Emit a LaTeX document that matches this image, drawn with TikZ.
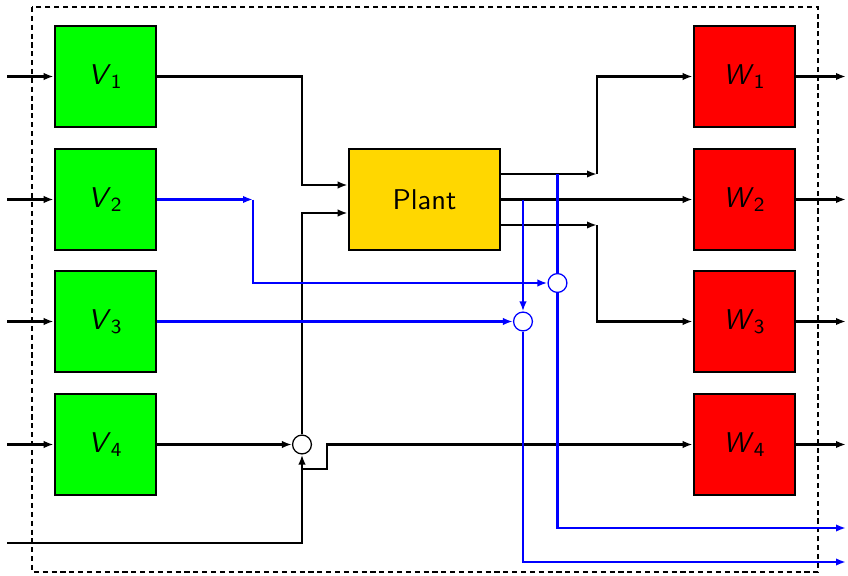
\documentclass[tikz,border=0pt]{standalone}
\usetikzlibrary{arrows.meta,calc}
\definecolor{vgreen}{RGB}{0,255,0}
\definecolor{wred}{RGB}{255,0,0}
\definecolor{pgold}{RGB}{255,215,0}
\newcommand{\sv}[2]{\textit{#1}$_{\mathsf{#2}}$}
\begin{document}
\begin{tikzpicture}[x=0.35pt,y=-0.35pt,
  font=\sffamily,
  blk/.style={draw=black,line width=0.9pt,minimum width=35.35pt,minimum height=35.35pt,inner sep=0pt},
  vbox/.style={blk,fill=vgreen},
  wbox/.style={blk,fill=wred},
  pbox/.style={blk,fill=pgold,minimum width=52.85pt},
  sumb/.style={circle,draw=black,fill=white,line width=0.45pt,minimum size=6.6pt,inner sep=0pt},
  sumu/.style={circle,draw=blue,fill=white,line width=0.45pt,minimum size=6.6pt,inner sep=0pt},
  wire/.style={line width=0.95pt,line join=miter},
  arr/.style={wire,-{Latex[length=3.5pt,width=2.6pt]}},
  bwire/.style={wire,draw=blue},
  barr/.style={arr,draw=blue,-{Latex[length=3.5pt,width=2.6pt,fill=blue]}},
  frame/.style={line width=0.9pt,dash pattern=on 1.8pt off 1.3pt}
]
\useasboundingbox (0,0) rectangle (848,576);
\draw[frame] (32,7) rectangle (818,572);

% blocks
\node[vbox] (V1) at (105.5,76.5) {\sv{V}{1}};
\node[vbox] (V2) at (105.5,199.5) {\sv{V}{2}};
\node[vbox] (V3) at (105.5,321.5) {\sv{V}{3}};
\node[vbox] (V4) at (105.5,444.5) {\sv{V}{4}};
\node[wbox] (W1) at (744.5,76.5) {\sv{W}{1}};
\node[wbox] (W2) at (744.5,199.5) {\sv{W}{2}};
\node[wbox] (W3) at (744.5,321.5) {\sv{W}{3}};
\node[wbox] (W4) at (744.5,444.5) {\sv{W}{4}};
\node[pbox] (P) at (424.5,199.5) {Plant};

% sum junctions
\node[sumb] (S1) at (302,444.5) {};
\node[sumu] (S2) at (557.5,283) {};
\node[sumu] (S3) at (523,321.5) {};

% free ends
\coordinate (i1) at (7,76.5);
\coordinate (i2) at (7,199.5);
\coordinate (i3) at (7,321.5);
\coordinate (i4) at (7,444.5);
\coordinate (i5) at (7,543);
\coordinate (o1) at (846,76.5);
\coordinate (o2) at (846,199.5);
\coordinate (o3) at (846,321.5);
\coordinate (o4) at (846,444.5);
\coordinate (o5) at (846,528);
\coordinate (o6) at (846,562);
\coordinate (pa) at ($(P.west)+(0,-14.5)$);
\coordinate (pb) at ($(P.west)+(0,13.5)$);
\coordinate (qa) at ($(P.east)+(0,-25.5)$);
\coordinate (qb) at ($(P.east)+(0,0)$);
\coordinate (qc) at ($(P.east)+(0,25.5)$);
\coordinate (ka) at (597,174);
\coordinate (kc) at (597,225);
\coordinate (b2) at (253,199.5);
\coordinate (j1) at (302,469);

% inputs and outputs
\foreach \k in {1,2,3,4}{
  \draw[arr] (i\k) -- (V\k.west);
  \draw[arr] (W\k.east) -- (o\k);
}

% black wiring
\draw[arr] (V1.east) -| (S1.north |- V1.east) |- (pa);
\draw[arr] (S1.north) |- (pb);
\draw[arr] (V4.east) -- (S1.west);
\draw[arr] (i5) -| (S1.south);
\draw[arr] (j1) -- (327,469) -- (327,444.5) -- (W4.west);
\draw[arr] (qa) -- (ka);
\draw[arr] (ka) |- (W1.west);
\draw[arr] (qb) -- (W2.west);
\draw[arr] (qc) -- (kc);
\draw[arr] (kc) |- (W3.west);

% blue wiring
\draw[barr] (V2.east) -- (b2);
\draw[barr] (b2) |- (S2.west);
\draw[bwire] (S2.north |- qa) -- (S2.north);
\draw[barr] (S2.south) |- (o5);
\draw[barr] (S3.north |- qb) -- (S3.north);
\draw[barr] (V3.east) -- (S3.west);
\draw[barr] (S3.south) |- (o6);
\end{tikzpicture}
\end{document}
